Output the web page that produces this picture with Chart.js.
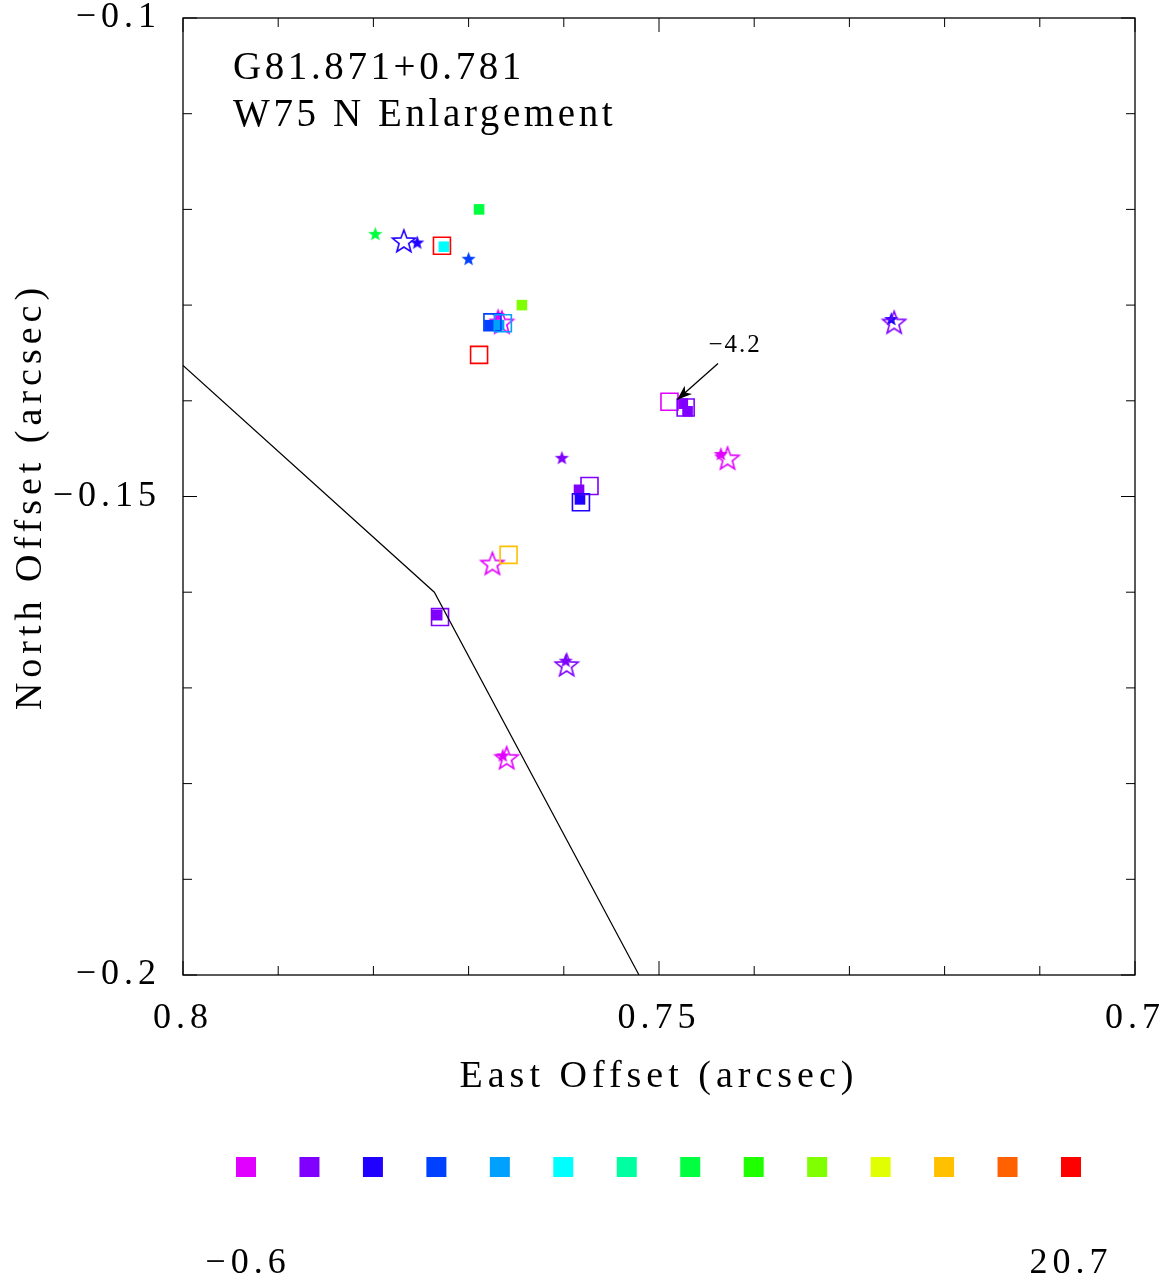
<!DOCTYPE html>
<html>
<head>
<meta charset="utf-8">
<script src="https://cdn.jsdelivr.net/npm/chart.js@4.4.1/dist/chart.umd.min.js"></script>
<style>
  html, body { margin: 0; padding: 0; background: #fff; }
</style>
</head>
<body>
<canvas id="mapa" width="1173" height="1283"></canvas>
<script>
// escala de color de velocidad (de menor a mayor)
var paleta = ['#e100ff', '#8000ff', '#2000ff', '#0040ff', '#00a0ff', '#00ffff', '#00ffa0',
              '#00ff40', '#20ff00', '#80ff00', '#e0ff00', '#ffc000', '#ff6000', '#ff0000'];
var velMin = '\u22120.6';
var velMax = '20.7';

// estrellas rellenas
var estLlenaX = [0.7798, 0.7754, 0.7700, 0.7669, 0.7602, 0.7435, 0.7256, 0.7598, 0.7664];
var estLlenaY = [-0.1225, -0.1234, -0.1251, -0.1310, -0.1459, -0.1455, -0.1314, -0.1671, -0.1770];
var estLlenaC = [7, 2, 3, 0, 1, 0, 2, 1, 0];

// estrellas abiertas
var estAbiertaX = [0.7768, 0.7665, 0.7428, 0.7253, 0.7675, 0.7597, 0.7660];
var estAbiertaY = [-0.1233, -0.1318, -0.1460, -0.1318, -0.1570, -0.1676, -0.1773];
var estAbiertaC = [2, 0, 0, 1, 0, 1, 0];

// cuadrados rellenos
var cuaLlenoX = [0.7726, 0.7689, 0.7644, 0.7678, 0.7668, 0.7584, 0.7583, 0.7475, 0.7470, 0.7733];
var cuaLlenoY = [-0.1239, -0.1200, -0.1300, -0.1321, -0.1321, -0.1493, -0.1503, -0.1403, -0.1411, -0.1624];
var cuaLlenoC = [5, 7, 9, 3, 4, 1, 2, 1, 1, 1];

// cuadrados abiertos
var cuaAbiertoX = [0.7728, 0.7675, 0.7664, 0.7689, 0.7573, 0.7582, 0.7489, 0.7472, 0.7658, 0.7730];
var cuaAbiertoY = [-0.1238, -0.1318, -0.1319, -0.1352, -0.1489, -0.1506, -0.1401, -0.1407, -0.1561, -0.1626];
var cuaAbiertoC = [13, 3, 4, 13, 1, 2, 0, 1, 11, 1];

// linea quebrada
var lineaX = [0.8, 0.7736, 0.7521];
var lineaY = [-0.1363, -0.1600, -0.2];

// flecha con etiqueta
var flechaX = [0.7438, 0.7481];
var flechaY = [-0.1361, -0.1399];
var flechaTexto = '\u22124.2';
var flechaTextoX = 0.7420;
var flechaTextoY = -0.1342;

var titulo1 = 'G81.871+0.781';
var titulo2 = 'W75 N Enlargement';

var fuente = 'Liberation Serif';

function hacerEstrella(color, radio, relleno) {
    var c = document.createElement('canvas');
    var s = Math.ceil(radio * 2 + 4);
    c.width = s; c.height = s;
    var g = c.getContext('2d');
    g.beginPath();
    for (var i = 0; i < 10; i++) {
        var r = i % 2 == 0 ? radio : radio * 0.42;
        var a = -Math.PI / 2 + i * Math.PI / 5;
        g.lineTo(s / 2 + r * Math.cos(a), s / 2 + 1 + r * Math.sin(a));
    }
    g.closePath();
    if (relleno) {
        g.fillStyle = color;
        g.fill();
    } else {
        g.strokeStyle = color;
        g.lineWidth = 1.6;
        g.stroke();
    }
    return c;
}

function puntos(xs, ys) {
    var d = [];
    for (var i = 0; i < xs.length; i++) d.push({x: xs[i], y: ys[i]});
    return d;
}

function colores(idx) {
    return idx.map(function (i) { return paleta[i]; });
}

function formato(v) {
    return parseFloat(v.toFixed(3)).toString().replace('-', '\u2212');
}

// marco con marcas hacia dentro en los cuatro lados
var marcoPlugin = {
    id: 'marco',
    beforeDraw: function (chart) {
        chart.ctx.letterSpacing = '5px';
    },
    afterDraw: function (chart) {
        var ctx = chart.ctx;
        var a = chart.chartArea;
        var sx = chart.scales.x, sy = chart.scales.y;
        ctx.save();
        ctx.strokeStyle = '#000';
        ctx.lineWidth = 1.3;
        ctx.strokeRect(a.left, a.top, a.right - a.left, a.bottom - a.top);
        ctx.lineWidth = 1;
        ctx.beginPath();
        for (var k = 0; k <= 10; k++) {
            var v = 0.7 + k * 0.01;
            var px = sx.getPixelForValue(v);
            var largo = (k % 5 == 0) ? 14 : 9;
            ctx.moveTo(px, a.bottom); ctx.lineTo(px, a.bottom - largo);
            ctx.moveTo(px, a.top); ctx.lineTo(px, a.top + largo);
            var vy = -0.2 + k * 0.01;
            var py = sy.getPixelForValue(vy);
            ctx.moveTo(a.left, py); ctx.lineTo(a.left + largo, py);
            ctx.moveTo(a.right, py); ctx.lineTo(a.right - largo, py);
        }
        ctx.stroke();

        // flecha
        var x0 = sx.getPixelForValue(flechaX[0]), y0 = sy.getPixelForValue(flechaY[0]);
        var x1 = sx.getPixelForValue(flechaX[1]), y1 = sy.getPixelForValue(flechaY[1]);
        var ang = Math.atan2(y1 - y0, x1 - x0);
        ctx.lineWidth = 1.3;
        ctx.beginPath();
        ctx.moveTo(x0, y0);
        ctx.lineTo(x1, y1);
        ctx.stroke();
        ctx.fillStyle = '#000';
        ctx.beginPath();
        ctx.moveTo(x1, y1);
        ctx.lineTo(x1 - 16 * Math.cos(ang - 0.35), y1 - 16 * Math.sin(ang - 0.35));
        ctx.lineTo(x1 - 11 * Math.cos(ang), y1 - 11 * Math.sin(ang));
        ctx.lineTo(x1 - 16 * Math.cos(ang + 0.35), y1 - 16 * Math.sin(ang + 0.35));
        ctx.closePath();
        ctx.fill();

        ctx.font = '25px "' + fuente + '"';
        ctx.letterSpacing = '2px';
        ctx.textAlign = 'center';
        ctx.textBaseline = 'middle';
        ctx.fillText(flechaTexto, sx.getPixelForValue(flechaTextoX), sy.getPixelForValue(flechaTextoY));

        // rotulo
        ctx.font = '39px "' + fuente + '"';
        ctx.letterSpacing = '3.6px';
        ctx.textAlign = 'left';
        ctx.textBaseline = 'alphabetic';
        ctx.fillText(titulo1, a.left + 50, a.top + 61);
        ctx.fillText(titulo2, a.left + 50, a.top + 108);

        // barra de colores
        var paso = (1071 - 246) / (paleta.length - 1);
        for (var i = 0; i < paleta.length; i++) {
            ctx.fillStyle = paleta[i];
            ctx.fillRect(246 + i * paso - 10, 1157, 20, 20);
        }
        ctx.fillStyle = '#000';
        ctx.font = '36px "' + fuente + '"';
        ctx.letterSpacing = '5px';
        ctx.textAlign = 'center';
        ctx.fillText(velMin, 248, 1273);
        ctx.fillText(velMax, 1071, 1273);
        ctx.restore();
    }
};

var estLlenas = estLlenaC.map(function (i) { return hacerEstrella(paleta[i], 7.5, true); });
var estAbiertas = estAbiertaC.map(function (i) { return hacerEstrella(paleta[i], 12, false); });

var mapa = new Chart(document.getElementById('mapa').getContext('2d'), {
    type: 'scatter',
    data: {
        datasets: [
            {
                data: puntos(lineaX, lineaY),
                showLine: true,
                borderColor: '#000',
                borderWidth: 1.2,
                pointRadius: 0
            },
            {
                data: puntos(cuaAbiertoX, cuaAbiertoY),
                pointStyle: 'rect',
                pointRadius: 12,
                backgroundColor: 'rgba(0,0,0,0)',
                borderColor: colores(cuaAbiertoC),
                borderWidth: 1.6
            },
            {
                data: puntos(cuaLlenoX, cuaLlenoY),
                pointStyle: 'rect',
                pointRadius: 7.5,
                backgroundColor: colores(cuaLlenoC),
                borderWidth: 0
            },
            {
                data: puntos(estAbiertaX, estAbiertaY),
                pointStyle: estAbiertas
            },
            {
                data: puntos(estLlenaX, estLlenaY),
                pointStyle: estLlenas
            }
        ]
    },
    options: {
        responsive: false,
        animation: false,
        devicePixelRatio: 1,
        layout: { padding: { top: 18, right: 38, left: 0, bottom: 0 } },
        plugins: {
            legend: { display: false },
            tooltip: { enabled: false }
        },
        scales: {
            x: {
                type: 'linear',
                min: 0.7,
                max: 0.8,
                reverse: true,
                grid: { display: false, drawTicks: false },
                border: { display: false },
                ticks: {
                    stepSize: 0.05,
                    padding: 22,
                    color: '#000',
                    font: { family: fuente, size: 36 },
                    maxRotation: 0,
                    callback: function (v) { return formato(v); }
                },
                title: {
                    display: true,
                    text: 'East Offset (arcsec)',
                    color: '#000',
                    font: { family: fuente, size: 38 },
                    padding: { top: 0, bottom: 183 }
                },
                afterFit: function (s) {
                    s.height = 308;
                    s.paddingLeft = 0;
                    s.paddingRight = 0;
                }
            },
            y: {
                type: 'linear',
                min: -0.2,
                max: -0.1,
                grid: { display: false, drawTicks: false },
                border: { display: false },
                ticks: {
                    stepSize: 0.05,
                    padding: 22,
                    color: '#000',
                    font: { family: fuente, size: 36 },
                    callback: function (v) { return formato(v); }
                },
                title: {
                    display: true,
                    text: 'North Offset (arcsec)',
                    color: '#000',
                    font: { family: fuente, size: 38 },
                    padding: { top: 8, bottom: 0 }
                },
                afterFit: function (s) {
                    s.width = 183;
                    s.paddingTop = 0;
                    s.paddingBottom = 0;
                }
            }
        }
    },
    plugins: [marcoPlugin]
});
</script>
</body>
</html>
